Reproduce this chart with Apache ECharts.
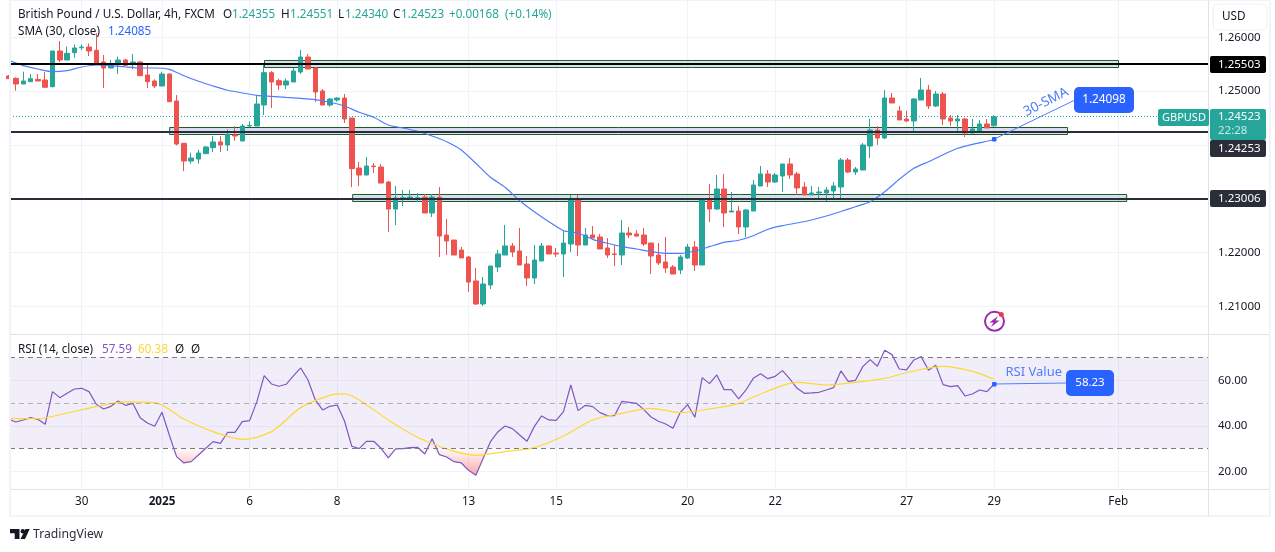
<!DOCTYPE html>
<html>
<head>
<meta charset="utf-8" />
<title>GBPUSD 4h</title>
<style>
  html, body { margin: 0; padding: 0; background: #fff; }
  #chart { width: 1275px; height: 552px; }
</style>
<script src="https://cdn.jsdelivr.net/npm/echarts@6/dist/echarts.min.js"></script>
</head>
<body>
<div id="chart"></div>
<script>
// candles, oldest first. first one is cut off by the left edge
var opens = [
  1.25280, 1.25237, 1.25132, 1.25175, 1.25218, 1.25206, 1.25082, 1.25745, 1.25578, 1.25714,
  1.25807, 1.25819, 1.25757, 1.25541, 1.25429, 1.25491, 1.25578, 1.25491, 1.25541, 1.25299,
  1.25187, 1.25094, 1.25317, 1.24816, 1.24029, 1.23700, 1.23737, 1.23837, 1.23948, 1.24054,
  1.23998, 1.24184, 1.24072, 1.24351, 1.24351, 1.24741, 1.25342, 1.25194, 1.25113, 1.25169,
  1.25355, 1.25633, 1.25429, 1.25002, 1.24741, 1.24834, 1.24871, 1.24500, 1.23570, 1.23440,
  1.23607, 1.23589, 1.23310, 1.22808, 1.23000, 1.22988, 1.23000, 1.23031, 1.22734, 1.23031,
  1.22325, 1.22232, 1.22046, 1.21916, 1.21470, 1.21043, 1.21396, 1.21730, 1.21953, 1.22121,
  1.22028, 1.21786, 1.21526, 1.21842, 1.22121, 1.21990, 1.21972, 1.22158, 1.22976, 1.22139,
  1.22325, 1.22288, 1.22083, 1.21972, 1.21953, 1.22362, 1.22344, 1.22325, 1.22176, 1.21953,
  1.21823, 1.21730, 1.21675, 1.21898, 1.22102, 1.21767, 1.22994, 1.22808, 1.23180, 1.22753,
  1.22771, 1.22474, 1.22771, 1.23236, 1.23459, 1.23310, 1.23422, 1.23645, 1.23459, 1.23217,
  1.23069, 1.23106, 1.23106, 1.23143, 1.23217, 1.23719, 1.23496, 1.23533, 1.23979, 1.24277,
  1.24128, 1.24871, 1.24630, 1.24481, 1.24444, 1.24834, 1.25020, 1.24723, 1.24946, 1.24500,
  1.24444, 1.24481, 1.24221, 1.24240, 1.24388, 1.24355
];
var closes = [
  1.25231, 1.25132, 1.25187, 1.25231, 1.25187, 1.25070, 1.25745, 1.25578, 1.25702, 1.25801,
  1.25819, 1.25745, 1.25516, 1.25429, 1.25503, 1.25578, 1.25479, 1.25541, 1.25286, 1.25175,
  1.25094, 1.25317, 1.24803, 1.24016, 1.23700, 1.23756, 1.23849, 1.23961, 1.24054, 1.23998,
  1.24196, 1.24165, 1.24351, 1.24363, 1.24760, 1.25342, 1.25169, 1.25113, 1.25187, 1.25373,
  1.25633, 1.25410, 1.24983, 1.24741, 1.24853, 1.24871, 1.24481, 1.23558, 1.23440, 1.23607,
  1.23595, 1.23291, 1.22808, 1.23013, 1.23019, 1.23031, 1.23019, 1.22734, 1.23031, 1.22306,
  1.22214, 1.21953, 1.21898, 1.21451, 1.21043, 1.21414, 1.21749, 1.21972, 1.22121, 1.22009,
  1.21767, 1.21526, 1.21860, 1.22121, 1.21972, 1.21972, 1.22176, 1.22976, 1.22139, 1.22325,
  1.22269, 1.22065, 1.21953, 1.21963, 1.22362, 1.22325, 1.22306, 1.22158, 1.21935, 1.21805,
  1.21712, 1.21600, 1.21916, 1.22102, 1.21767, 1.22994, 1.22808, 1.23180, 1.22734, 1.22771,
  1.22474, 1.22790, 1.23254, 1.23459, 1.23310, 1.23440, 1.23645, 1.23440, 1.23199, 1.23069,
  1.23106, 1.23124, 1.23161, 1.23236, 1.23719, 1.23496, 1.23552, 1.23998, 1.24277, 1.24128,
  1.24871, 1.24779, 1.24463, 1.24444, 1.24853, 1.25020, 1.24723, 1.24946, 1.24481, 1.24444,
  1.24481, 1.24221, 1.24295, 1.24388, 1.24314, 1.24523
];
var lows = [
  1.25231, 1.25008, 1.25132, 1.25175, 1.25187, 1.25070, 1.25070, 1.25541, 1.25578, 1.25621,
  1.25764, 1.25652, 1.25516, 1.25057, 1.25423, 1.25317, 1.25466, 1.25410, 1.25280, 1.25057,
  1.25057, 1.25094, 1.24803, 1.23992, 1.23514, 1.23651, 1.23651, 1.23830, 1.23868, 1.23868,
  1.23886, 1.24078, 1.24072, 1.24326, 1.24351, 1.24555, 1.24685, 1.25020, 1.25039, 1.25169,
  1.25317, 1.25410, 1.24797, 1.24741, 1.24710, 1.24803, 1.24407, 1.23217, 1.23236, 1.23440,
  1.23477, 1.23291, 1.22381, 1.22511, 1.22864, 1.22975, 1.22938, 1.22734, 1.22660, 1.21916,
  1.21953, 1.21953, 1.21898, 1.21266, 1.21024, 1.21005, 1.21321, 1.21637, 1.21953, 1.21916,
  1.21767, 1.21377, 1.21414, 1.21842, 1.21972, 1.21916, 1.21544, 1.22009, 1.21935, 1.22139,
  1.22269, 1.22065, 1.21898, 1.21749, 1.21767, 1.22269, 1.22288, 1.22121, 1.21600, 1.21767,
  1.21619, 1.21600, 1.21600, 1.21879, 1.21656, 1.21767, 1.22567, 1.22790, 1.22474, 1.22753,
  1.22344, 1.22288, 1.22771, 1.23236, 1.23217, 1.23292, 1.23124, 1.23366, 1.23069, 1.23069,
  1.23069, 1.23013, 1.22957, 1.22994, 1.22994, 1.23477, 1.23440, 1.23533, 1.23756, 1.23998,
  1.24109, 1.24779, 1.24463, 1.24425, 1.24258, 1.24834, 1.24667, 1.24704, 1.24370, 1.24351,
  1.24258, 1.24147, 1.24221, 1.24221, 1.24314, 1.24340
];
var highs = [
  1.25299, 1.25256, 1.25361, 1.25317, 1.25317, 1.25355, 1.25745, 1.25931, 1.25826, 1.25869,
  1.25869, 1.25888, 1.26073, 1.25671, 1.25578, 1.25640, 1.25603, 1.25689, 1.25553, 1.25503,
  1.25218, 1.25361, 1.25330, 1.24927, 1.24029, 1.23855, 1.23911, 1.23979, 1.24165, 1.24165,
  1.24289, 1.24351, 1.24388, 1.24438, 1.24921, 1.25485, 1.25373, 1.25231, 1.25231, 1.25429,
  1.25764, 1.25689, 1.25441, 1.25039, 1.24871, 1.24890, 1.24946, 1.24500, 1.23682, 1.23775,
  1.23663, 1.23645, 1.23329, 1.23236, 1.23161, 1.23161, 1.23106, 1.23087, 1.23087, 1.23217,
  1.22622, 1.22232, 1.22102, 1.21935, 1.21712, 1.21544, 1.21749, 1.22046, 1.22511, 1.22176,
  1.22455, 1.21935, 1.22139, 1.22176, 1.22139, 1.22083, 1.22399, 1.23069, 1.23069, 1.22455,
  1.22492, 1.22344, 1.22269, 1.22139, 1.22604, 1.22474, 1.22418, 1.22455, 1.22176, 1.22176,
  1.22288, 1.21767, 1.21953, 1.22158, 1.22214, 1.22994, 1.23273, 1.23440, 1.23459, 1.23124,
  1.22864, 1.22808, 1.23347, 1.23608, 1.23533, 1.23477, 1.23645, 1.23756, 1.23496, 1.23310,
  1.23236, 1.23217, 1.23217, 1.23310, 1.23756, 1.23756, 1.23589, 1.24035, 1.24481, 1.24351,
  1.25020, 1.24964, 1.24723, 1.24630, 1.24871, 1.25243, 1.25113, 1.25002, 1.24983, 1.24555,
  1.24555, 1.24500, 1.24481, 1.24463, 1.24481, 1.24551
];

// sma 30, read every second candle
var smaX = [
  0, 2, 4, 6, 8, 10, 12, 14, 16, 18, 20, 22, 24, 26, 28, 30, 32, 34, 36, 38, 40, 42, 44, 46, 48, 50,
  52, 54, 56, 58, 60, 62, 64, 66, 68, 70, 72, 74, 76, 78, 80, 82, 84, 86, 88, 90, 92, 94, 96, 98, 100,
  102, 104, 106, 108, 110, 112, 114, 116, 118, 120, 122, 124, 126, 128, 130, 132, 134, 135
];
var smaValues = [
  1.25572, 1.25472, 1.25411, 1.25360, 1.25379, 1.25448, 1.25485, 1.25472, 1.25448, 1.25429, 1.25429,
  1.25405, 1.25286, 1.25182, 1.25095, 1.25015, 1.24964, 1.24922, 1.24903, 1.24884, 1.24866, 1.24840,
  1.24792, 1.24723, 1.24606, 1.24513, 1.24370, 1.24314, 1.24253, 1.24165, 1.24059, 1.23905, 1.23658,
  1.23398, 1.23212, 1.22963, 1.22758, 1.22572, 1.22405, 1.22362, 1.22245, 1.22171, 1.22108, 1.22065,
  1.22015, 1.21985, 1.21985, 1.22028, 1.22108, 1.22189, 1.22227, 1.22312, 1.22431, 1.22498, 1.22548,
  1.22604, 1.22678, 1.22762, 1.22851, 1.22944, 1.23130, 1.23360, 1.23565, 1.23687, 1.23818, 1.23937,
  1.24011, 1.24067, 1.24098
];

var rsiValues = [
  42.84, 41.67, 42.55, 43.57, 42.84, 40.64, 55.00, 52.36, 54.27, 56.17,
  56.47, 55.00, 49.43, 47.38, 48.55, 50.90, 48.99, 49.87, 43.57, 41.23,
  39.76, 45.92, 35.95, 26.43, 23.65, 24.23, 27.16, 30.09, 33.02, 32.29,
  37.13, 37.13, 41.81, 42.25, 50.61, 62.03, 58.37, 57.35, 58.23, 61.89,
  65.41, 60.13, 51.34, 46.94, 48.55, 49.14, 42.11, 30.97, 29.95, 33.17,
  33.17, 30.09, 25.84, 29.80, 29.95, 30.39, 30.53, 27.60, 34.34, 27.31,
  26.28, 24.23, 23.65, 20.42, 18.23, 25.70, 33.02, 37.27, 39.91, 38.74,
  35.95, 33.17, 39.62, 44.31, 42.55, 42.40, 46.21, 57.93, 46.65, 48.99,
  48.41, 45.77, 44.45, 44.45, 50.75, 50.31, 49.87, 47.09, 43.87, 41.96,
  40.79, 38.88, 45.92, 49.29, 43.72, 61.16, 58.52, 62.33, 55.88, 55.88,
  51.78, 55.73, 60.86, 62.91, 60.72, 61.74, 64.23, 60.57, 56.47, 54.27,
  54.42, 54.71, 55.73, 56.76, 64.09, 59.54, 59.98, 65.99, 69.07, 66.14,
  73.17, 71.27, 64.96, 64.53, 68.92, 70.39, 64.38, 66.58, 58.08, 57.20,
  57.64, 53.10, 53.98, 55.73, 55.00, 58.37
];
var rsiMaX = [
  0, 4, 8, 12, 16, 20, 24, 28, 32, 36, 40, 44, 46, 48, 52, 56, 60, 64, 68, 72, 76, 80, 84, 88, 92, 96,
  100, 104, 108, 112, 116, 120, 124, 128, 132, 135
];
var rsiMaValues = [
  43.28, 43.13, 45.62, 48.41, 50.46, 50.17, 42.99, 37.42, 34.05, 37.42, 47.97, 53.39, 53.98, 51.34,
  42.55, 34.93, 29.80, 27.02, 28.63, 30.39, 35.51, 42.55, 45.48, 47.68, 45.77, 47.38, 49.87, 55.30,
  59.10, 57.93, 59.10, 60.86, 64.09, 66.14, 63.94, 60.42
];

// date axis: candle index of each label
var dateTicks = [10, 21, 33, 45, 63, 75, 93, 105, 123, 135, 152];
var dateLabels = ['30', '2025', '6', '8', '13', '15', '20', '22', '27', '29', 'Feb'];

var priceTicks = [1.21, 1.22, 1.23, 1.24, 1.25, 1.26];
var rsiTicks = [20, 40, 60];

var levels = [1.25503, 1.24253, 1.23006];
var levelColors = ['#000000', '#2a2e39', '#2a2e39'];
var lastPrice = 1.24523;

// drawn zones: from candle, to candle, bottom price, top price
var zoneFrom = [35.04, 22.05, 47.12];
var zoneTo = [152.04, 145.05, 153.15];
var zoneLow = [1.25438, 1.24193, 1.22948];
var zoneHigh = [1.25569, 1.24323, 1.23078];

var FONT = '"Noto Sans", sans-serif';
var GREEN = '#26a69a';
var RED = '#ef5350';
var BLUE = '#2962ff';
var GRID = '#f0f3fa';
var BORDER = '#e0e3eb';
var TEXT = '#131722';

var xMin = 0.178, xMax = 164.29;

var chart = echarts.init(document.getElementById('chart'));

function text(x, y, str, fill, size, extra) {
  var style = { x: x, y: y, text: str, fill: fill, font: (size || 11.7) + 'px ' + FONT, verticalAlign: 'middle', align: 'left' };
  for (var k in extra) style[k] = extra[k];
  return { type: 'text', silent: true, z: 100, style: style };
}
function box(x, y, w, h, fill, r) {
  return { type: 'rect', silent: true, z: 99, shape: { x: x, y: y, width: w, height: h, r: r || 0 }, style: { fill: fill } };
}
function xAxisFor(gridIndex, withLabels) {
  return {
    type: 'value', gridIndex: gridIndex, min: xMin, max: xMax,
    axisLine: { show: withLabels, lineStyle: { color: BORDER, width: 1 } },
    axisTick: { show: false, customValues: dateTicks },
    splitLine: { show: true, lineStyle: { color: GRID, width: 1 } },
    axisLabel: {
      show: withLabels, customValues: dateTicks, margin: 7, color: TEXT, fontSize: 11.7, fontFamily: FONT,
      formatter: function (v) {
        var s = dateLabels[dateTicks.indexOf(v)];
        return s === '2025' ? '{b|' + s + '}' : s;
      },
      rich: { b: { fontWeight: 'bold', fontSize: 11.7, color: TEXT, fontFamily: FONT } }
    }
  };
}

var overGradient = new echarts.graphic.LinearGradient(0, 448, 0, 476, [
  { offset: 0, color: 'rgba(239,83,80,0.02)' },
  { offset: 1, color: 'rgba(239,83,80,0.5)' }
], true);

var graphics = [
  // frame
  { type: 'rect', silent: true, z: 90, shape: { x: 10, y: 0, width: 1260, height: 516 }, style: { fill: 'none', stroke: '#f0f3fa', lineWidth: 2 } },
  { type: 'line', silent: true, z: 90, shape: { x1: 1208.5, y1: 0, x2: 1208.5, y2: 516 }, style: { stroke: BORDER, lineWidth: 1 } },
  { type: 'line', silent: true, z: 90, shape: { x1: 10, y1: 334.5, x2: 1269, y2: 334.5 }, style: { stroke: BORDER, lineWidth: 1 } },
  { type: 'line', silent: true, z: 90, shape: { x1: 1209, y1: 489.5, x2: 1269, y2: 489.5 }, style: { stroke: BORDER, lineWidth: 1 } },

  // header
  text(18, 15, 'British Pound / U.S. Dollar, 4h, FXCM', TEXT),
  text(223, 15, 'O', TEXT), text(232, 15, '1.24355', GREEN),
  text(281, 15, 'H', TEXT), text(290, 15, '1.24551', GREEN),
  text(338, 15, 'L', TEXT), text(345, 15, '1.24340', GREEN),
  text(393, 15, 'C', TEXT), text(401, 15, '1.24523', GREEN),
  text(449, 15, '+0.00168', GREEN), text(505, 15, '(+0.14%)', GREEN),
  text(18, 32, 'SMA (30, close)', TEXT), text(108, 32, '1.24085', BLUE),
  text(18, 350, 'RSI (14, close)', TEXT), text(102, 350, '57.59', '#7e57c2'),
  text(138, 350, '60.38', '#fdd835'), text(175, 350, '\u00d8', TEXT), text(191, 350, '\u00d8', TEXT),

  // USD box
  { type: 'rect', silent: true, z: 99, shape: { x: 1213, y: 4, width: 54, height: 26, r: 5 }, style: { fill: '#fff', stroke: '#eef0f5', lineWidth: 1 } },
  text(1222, 17, 'USD', TEXT),

  // price tags
  box(1210, 56, 56, 17, '#000000', 2), text(1218, 64.5, '1.25503', '#fff', 11.5),
  box(1210, 140, 56, 17, '#2a2e39', 2), text(1218, 148.5, '1.24253', '#fff', 11.5),
  box(1210, 190, 56, 17, '#2a2e39', 2), text(1218, 198.5, '1.23006', '#fff', 11.5),
  box(1210, 109, 56, 31, GREEN, 2), text(1218, 117, '1.24523', '#fff', 11.5), text(1218, 131, '22:28', '#c9e9e5', 11.5),
  box(1158, 109, 51, 17, GREEN, 2), text(1162, 117.5, 'GBPUSD', '#fff', 11),

  // sma note
  { type: 'line', silent: true, z: 98, shape: { x1: 994.3, y1: 139, x2: 1075, y2: 100 }, style: { stroke: '#4f7dff', lineWidth: 1 } },
  box(992, 137, 4.5, 4.5, BLUE, 1),
  box(1074, 87, 60, 26, BLUE, 5), text(1104, 100, '1.24098', '#fff', 11.8, { align: 'center' }),
  { type: 'text', silent: true, z: 100, x: 1046, y: 102, rotation: 0.47,
    style: { text: '30-SMA', fill: '#4f7dff', font: '13.5px ' + FONT, align: 'center', verticalAlign: 'middle' } },

  // rsi note
  { type: 'line', silent: true, z: 98, shape: { x1: 994, y1: 384, x2: 1066, y2: 383 }, style: { stroke: '#4f7dff', lineWidth: 1.2 } },
  box(992, 382, 4.5, 4.5, BLUE, 1),
  box(1066, 370, 48, 26, BLUE, 5), text(1090, 383, '58.23', '#fff', 11.5, { align: 'center' }),
  text(1005.5, 372, 'RSI Value', '#4f7dff', 13),

  // flash icon
  { type: 'circle', silent: true, z: 98, shape: { cx: 994.5, cy: 321.3, r: 9.5 }, style: { fill: '#fff', stroke: '#9c27b0', lineWidth: 2 } },
  { type: 'polygon', silent: true, z: 99, shape: { points: [[998, 316], [989.5, 322.5], [993.5, 322.5], [991, 327], [999.5, 320.5], [995.5, 320.5]] }, style: { fill: '#9c27b0' } },
  { type: 'circle', silent: true, z: 99, shape: { cx: 1001.3, cy: 314.5, r: 2.5 }, style: { fill: '#f23645' } },

  // logo
  { type: 'polygon', silent: true, z: 99, shape: { points: [[10, 529], [19.5, 529], [19.5, 539], [14.7, 539], [14.7, 533.3], [10, 533.3]] }, style: { fill: TEXT } },
  { type: 'circle', silent: true, z: 99, shape: { cx: 22.8, cy: 531.2, r: 2.2 }, style: { fill: TEXT } },
  { type: 'polygon', silent: true, z: 99, shape: { points: [[25.5, 529], [29.7, 529], [25, 539], [20.5, 539]] }, style: { fill: TEXT } },
  text(33, 534.5, 'TradingView', '#2a2e39', 12.2)
];

var option = {
  animation: false,
  backgroundColor: '#fff',
  graphic: { elements: graphics },
  grid: [
    { left: 10, right: 67, top: 0, height: 334 },
    { left: 10, right: 67, top: 335, height: 154 }
  ],
  xAxis: [xAxisFor(0, false), xAxisFor(1, true)],
  yAxis: [
    {
      type: 'value', gridIndex: 0, position: 'right', min: 1.20485, max: 1.26693, scale: true,
      axisLine: { show: false },
      axisTick: { show: false, customValues: priceTicks },
      splitLine: { show: true, lineStyle: { color: GRID, width: 1 } },
      axisLabel: {
        customValues: priceTicks, margin: 10, color: TEXT, fontSize: 11.5, fontFamily: FONT,
        formatter: function (v) { return v.toFixed(5); }
      }
    },
    {
      type: 'value', gridIndex: 1, position: 'right', min: 12.2, max: 79.9, scale: true,
      axisLine: { show: false },
      axisTick: { show: false, customValues: rsiTicks },
      splitLine: { show: true, lineStyle: { color: GRID, width: 1 } },
      axisLabel: {
        customValues: rsiTicks, margin: 10, color: TEXT, fontSize: 11.5, fontFamily: FONT,
        formatter: function (v) { return v.toFixed(2); }
      }
    }
  ],
  series: [
    {
      name: 'levels', type: 'line', xAxisIndex: 0, yAxisIndex: 0, data: [], z: 1, silent: true,
      markLine: {
        silent: true, symbol: 'none', label: { show: false }, animation: false, precision: 5,
        data: levels.map(function (v, i) {
          return { yAxis: v, lineStyle: { color: levelColors[i], width: 2, type: 'solid' } };
        }).concat([{ yAxis: lastPrice, lineStyle: { color: GREEN, width: 1, type: [1, 2] } }])
      }
    },
    {
      name: 'zones', type: 'line', xAxisIndex: 0, yAxisIndex: 0, data: [], z: 2, silent: true,
      markArea: {
        silent: true, animation: false,
        itemStyle: { color: 'rgba(60,90,190,0.2)', borderColor: '#1b5e20', borderWidth: 1 },
        data: zoneFrom.map(function (from, i) {
          return [{ coord: [from, zoneHigh[i]] }, { coord: [zoneTo[i], zoneLow[i]] }];
        })
      }
    },
    {
      name: 'GBPUSD', type: 'candlestick', xAxisIndex: 0, yAxisIndex: 0, z: 3, barWidth: 5,
      itemStyle: { color: GREEN, color0: RED, borderColor: GREEN, borderColor0: RED, borderWidth: 1 },
      data: opens.map(function (o, i) { return [i, o, closes[i], lows[i], highs[i]]; })
    },
    {
      name: 'SMA', type: 'line', xAxisIndex: 0, yAxisIndex: 0, z: 4, symbol: 'none', smooth: 0.2,
      lineStyle: { color: '#4f7dff', width: 1.2 },
      data: smaX.map(function (x, i) { return [x, smaValues[i]]; })
    },
    {
      name: 'RSI band', type: 'line', xAxisIndex: 1, yAxisIndex: 1, data: [], z: 1, silent: true,
      markArea: {
        silent: true, animation: false, itemStyle: { color: 'rgba(126,87,194,0.1)' },
        data: [[{ yAxis: 70 }, { yAxis: 30 }]]
      },
      markLine: {
        silent: true, symbol: 'none', label: { show: false }, animation: false,
        data: [
          { yAxis: 70, lineStyle: { color: '#787b86', width: 1, type: [5, 4] } },
          { yAxis: 50, lineStyle: { color: 'rgba(120,123,134,0.55)', width: 1, type: [5, 4] } },
          { yAxis: 30, lineStyle: { color: '#787b86', width: 1, type: [5, 4] } }
        ]
      }
    },
    {
      name: 'RSI oversold', type: 'line', xAxisIndex: 1, yAxisIndex: 1, z: 2, symbol: 'none', silent: true,
      lineStyle: { opacity: 0 },
      areaStyle: { origin: 30, color: overGradient, opacity: 1 },
      data: rsiValues.map(function (v, i) { return [i, Math.min(v, 30)]; })
    },
    {
      name: 'RSI', type: 'line', xAxisIndex: 1, yAxisIndex: 1, z: 3, symbol: 'none',
      lineStyle: { color: '#7e57c2', width: 1.2 },
      data: rsiValues.map(function (v, i) { return [i, v]; })
    },
    {
      name: 'RSI MA', type: 'line', xAxisIndex: 1, yAxisIndex: 1, z: 4, symbol: 'none', smooth: 0.3,
      lineStyle: { color: '#fdd835', width: 1.2 },
      data: rsiMaX.map(function (x, i) { return [x, rsiMaValues[i]]; })
    }
  ]
};
chart.setOption(option);
</script>
</body>
</html>
